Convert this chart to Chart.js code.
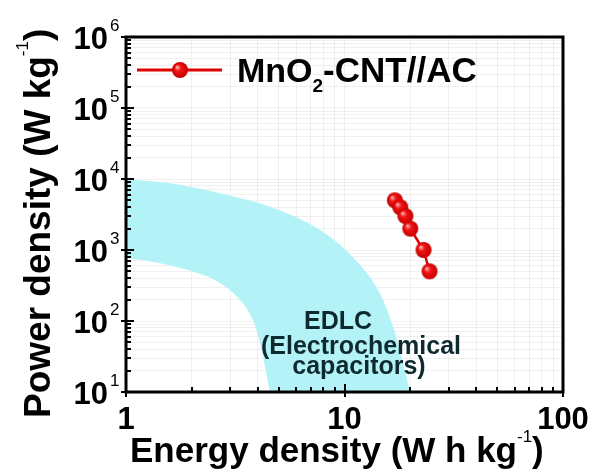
<!DOCTYPE html>
<html>
<head>
<meta charset="utf-8">
<script src="https://cdn.jsdelivr.net/npm/chart.js@4.4.0/dist/chart.umd.min.js"></script>
<style>
  html, body { margin: 0; padding: 0; background: #ffffff; }
  #c { display: block; }
</style>
</head>
<body>
<canvas id="c" width="595" height="472"></canvas>
<script>
// Ragone data for the MnO2-CNT//AC device
const energyDensity = [17, 18, 19, 20, 23, 24.5];      // W h kg-1
const powerDensity  = [5000, 4000, 3000, 2000, 1000, 500]; // W kg-1

// EDLC (electrochemical capacitor) region: upper and lower envelopes
const edlcUpperEnergy = [0.9, 1, 1.59, 2.69, 4.56, 7.73, 10.9, 14.5, 16.7, 17.9, 19.9, 21];
const edlcUpperPower  = [10500, 10000, 8700, 6300, 4070, 1910, 795, 247, 82, 39, 10, 4];
const edlcLowerEnergy = [0.9, 1, 1.9, 2.69, 3.32, 3.81, 4.15, 4.55, 4.9, 21];
const edlcLowerPower  = [800, 775, 525, 343, 198, 103, 43, 10.5, 4, 4];

// Axis ticks
const xMajorTicks = [1, 10, 100];
const xTickLabels = ['1', '10', '100'];
const yMajorTicks = [10, 100, 1000, 10000, 100000, 1000000];
const yTickExponents = ['1', '2', '3', '4', '5', '6'];
const minorSteps = [2, 3, 4, 5, 6, 7, 8, 9];

const minorOf = majors => majors.slice(0, -1).flatMap(m => minorSteps.map(s => s * m));
const xMinorTicks = minorOf(xMajorTicks);
const yMinorTicks = minorOf(yMajorTicks);

const toPoints = (xs, ys) => xs.map((x, i) => ({ x, y: ys[i] }));

// Shaded red ball used as the marker
function makeBall(r) {
  const c = document.createElement('canvas');
  const s = 2 * r + 2;
  c.width = s; c.height = s;
  const g = c.getContext('2d');
  const grd = g.createRadialGradient(r - 2, r - 2, 0.5, r + 1, r + 1, r);
  grd.addColorStop(0, '#ffb0b0');
  grd.addColorStop(0.35, '#f21414');
  grd.addColorStop(1, '#c40000');
  g.fillStyle = grd;
  g.beginPath();
  g.arc(r + 1, r + 1, r, 0, Math.PI * 2);
  g.fill();
  return c;
}
const ball = makeBall(8);

const BOLD = 'bold ';
const FAMILY = '"Liberation Sans", Arial, sans-serif';

function drawRuns(ctx, x, y, runs) {
  let cx = x;
  for (const r of runs) {
    ctx.font = r.font;
    ctx.fillText(r.text, cx, y + (r.dy || 0));
    cx += ctx.measureText(r.text).width;
  }
  return cx;
}

const decorations = {
  id: 'decorations',
  afterDraw(chart) {
    const ctx = chart.ctx;
    const a = chart.chartArea;
    const xs = chart.scales.x, ys = chart.scales.y;
    ctx.save();
    ctx.fillStyle = '#000';
    ctx.strokeStyle = '#000';

    // frame
    ctx.lineWidth = 3;
    ctx.strokeRect(a.left, a.top, a.right - a.left, a.bottom - a.top);

    // tick marks
    ctx.lineWidth = 2;
    ctx.beginPath();
    for (const v of xMinorTicks) {
      const px = Math.round(xs.getPixelForValue(v));
      ctx.moveTo(px, a.bottom); ctx.lineTo(px, a.bottom - 5);
    }
    for (const v of xMajorTicks) {
      const px = Math.round(xs.getPixelForValue(v));
      ctx.moveTo(px, a.bottom + 5); ctx.lineTo(px, a.bottom - 8);
    }
    for (const v of yMinorTicks) {
      const py = Math.round(ys.getPixelForValue(v));
      ctx.moveTo(a.left, py); ctx.lineTo(a.left + 5, py);
    }
    for (const v of yMajorTicks) {
      const py = Math.round(ys.getPixelForValue(v));
      ctx.moveTo(a.left - 5, py); ctx.lineTo(a.left + 8, py);
    }
    ctx.stroke();

    // x tick labels
    ctx.textBaseline = 'alphabetic';
    ctx.textAlign = 'center';
    ctx.font = BOLD + '31px ' + FAMILY;
    xMajorTicks.forEach((v, i) => {
      ctx.fillText(xTickLabels[i], xs.getPixelForValue(v), a.bottom + 37);
    });

    // y tick labels: 10 with superscript exponent
    yMajorTicks.forEach((v, i) => {
      const py = ys.getPixelForValue(v);
      ctx.textAlign = 'right';
      ctx.font = BOLD + '31px ' + FAMILY;
      ctx.fillText('10', a.left - 18, py + 12);
      ctx.textAlign = 'left';
      ctx.font = '17px ' + FAMILY;
      ctx.fillText(yTickExponents[i], a.left - 16, py - 6);
    });

    // axis titles
    ctx.textAlign = 'left';
    drawRuns(ctx, 130, 462, [
      { text: 'Energy density (W h kg', font: BOLD + '35px ' + FAMILY },
      { text: '-1', font: '17px ' + FAMILY, dy: -20 },
      { text: ')', font: BOLD + '35px ' + FAMILY }
    ]);
    ctx.save();
    ctx.translate(50, 418);
    ctx.rotate(-Math.PI / 2);
    drawRuns(ctx, 0, 0, [
      { text: 'Power density (W kg', font: BOLD + '37px ' + FAMILY },
      { text: '-1', font: '17px ' + FAMILY, dy: -22 },
      { text: ')', font: BOLD + '37px ' + FAMILY }
    ]);
    ctx.restore();

    // legend
    ctx.strokeStyle = '#e00000';
    ctx.lineWidth = 3;
    ctx.beginPath();
    ctx.moveTo(137, 70); ctx.lineTo(222, 70);
    ctx.stroke();
    ctx.drawImage(ball, 180 - ball.width / 2, 70 - ball.height / 2);
    ctx.fillStyle = '#000';
    drawRuns(ctx, 237, 82, [
      { text: 'MnO', font: BOLD + '34px ' + FAMILY },
      { text: '2', font: BOLD + '19px ' + FAMILY, dy: 10 },
      { text: '-CNT//AC', font: BOLD + '35px ' + FAMILY }
    ]);

    // EDLC region label
    ctx.fillStyle = '#0e2a2f';
    ctx.textAlign = 'center';
    ctx.font = BOLD + '25px ' + FAMILY;
    ctx.fillText('EDLC', 338, 329);
    ctx.fillText('(Electrochemical', 361, 354);
    ctx.fillText('capacitors)', 359, 374);
    ctx.restore();
  }
};

new Chart(document.getElementById('c'), {
  type: 'scatter',
  data: {
    datasets: [
      {
        label: 'MnO2-CNT//AC',
        data: toPoints(energyDensity, powerDensity),
        showLine: true,
        borderColor: '#e00000',
        borderWidth: 2.5,
        pointStyle: ball,
        pointRadius: 8,
        fill: false
      },
      {
        label: 'EDLC upper',
        data: toPoints(edlcUpperEnergy, edlcUpperPower),
        showLine: true,
        borderWidth: 0,
        borderColor: 'rgba(0,0,0,0)',
        backgroundColor: '#b3f3f7',
        pointRadius: 0,
        cubicInterpolationMode: 'monotone',
        fill: '+1'
      },
      {
        label: 'EDLC lower',
        data: toPoints(edlcLowerEnergy, edlcLowerPower),
        showLine: true,
        borderWidth: 0,
        borderColor: 'rgba(0,0,0,0)',
        pointRadius: 0,
        cubicInterpolationMode: 'monotone',
        fill: false
      }
    ]
  },
  options: {
    responsive: false,
    animation: false,
    events: [],
    layout: { padding: { top: 37, right: 32, left: 0, bottom: 0 } },
    plugins: { legend: { display: false }, tooltip: { enabled: false } },
    scales: {
      x: {
        type: 'logarithmic',
        min: 1, max: 100,
        afterFit: s => { s.height = 80; },
        afterBuildTicks: s => { s.ticks = [...xMajorTicks, ...xMinorTicks].sort((p, q) => p - q).map(v => ({ value: v })); },
        ticks: { display: false, autoSkip: false },
        grid: { color: 'rgba(0,0,0,0.06)', lineWidth: 1, drawTicks: false },
        border: { display: false }
      },
      y: {
        type: 'logarithmic',
        min: 10, max: 1000000,
        afterFit: s => { s.width = 126; },
        afterBuildTicks: s => { s.ticks = [...yMajorTicks, ...yMinorTicks].sort((p, q) => p - q).map(v => ({ value: v })); },
        ticks: { display: false, autoSkip: false },
        grid: { color: 'rgba(0,0,0,0.06)', lineWidth: 1, drawTicks: false },
        border: { display: false }
      }
    }
  },
  plugins: [decorations]
});
</script>
</body>
</html>
